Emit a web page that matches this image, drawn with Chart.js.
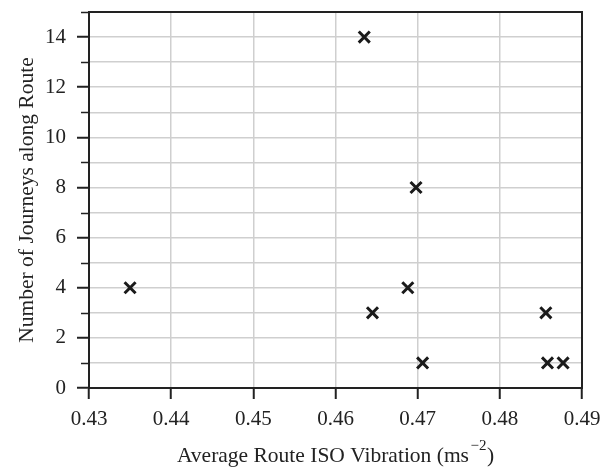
<!DOCTYPE html>
<html><head><meta charset="utf-8">
<script src="https://cdn.jsdelivr.net/npm/chart.js@4"></script>
<style>html,body{margin:0;padding:0;background:#fff}#wrap{width:608px;height:468px}</style>
</head><body><div id="wrap"><canvas id="c" width="608" height="468"></canvas></div>
<script>
const vibration = [0.435, 0.4635, 0.4698, 0.4688, 0.4645, 0.4706, 0.4856, 0.4858, 0.4877];
const journeys = [4, 14, 8, 4, 3, 1, 3, 1, 1];
const xTickLabels = ['0.43','0.44','0.45','0.46','0.47','0.48','0.49'];
const yTickLabels = ['0','2','4','6','8','10','12','14'];
const xTitle = 'Average Route ISO Vibration (ms';
const xTitleSup = '\u22122';
const yTitle = 'Number of Journeys along Route';

const FONT = '"Liberation Serif", "Times New Roman", serif';
const INK = '#222222';
const TITLE_SIZE = 21.5;

const framePlugin = {
  id: 'frame',
  afterDraw(chart) {
    const ctx = chart.ctx, a = chart.chartArea;
    const ys = chart.scales.y;
    ctx.save();
    // minor ticks on y (odd values)
    ctx.strokeStyle = INK; ctx.lineWidth = 1.5;
    for (let v = 1; v <= 15; v += 2) {
      const py = Math.round(ys.getPixelForValue(v)) + 0.5;
      ctx.beginPath(); ctx.moveTo(a.left - 8, py); ctx.lineTo(a.left, py); ctx.stroke();
    }
    // box
    ctx.lineWidth = 2; ctx.strokeStyle = INK;
    ctx.strokeRect(a.left, a.top, a.right - a.left, a.bottom - a.top);
    // x title with superscript
    ctx.fillStyle = '#222';
    ctx.textBaseline = 'alphabetic';
    const big = TITLE_SIZE + 'px ' + FONT, small = Math.round(TITLE_SIZE * 0.68) + 'px ' + FONT;
    ctx.font = big;
    const w1 = ctx.measureText(xTitle).width;
    ctx.font = small;
    const w2 = ctx.measureText(xTitleSup).width;
    ctx.font = big;
    const w3 = ctx.measureText(')').width;
    const total = w1 + w2 + w3 + 2;
    const cx = (a.left + a.right) / 2;
    let x0 = cx - total / 2;
    const base = 462;
    ctx.textAlign = 'left';
    ctx.fillText(xTitle, x0, base);
    ctx.font = small;
    ctx.fillText(xTitleSup, x0 + w1 + 1.5, base - 12);
    ctx.font = big;
    ctx.fillText(')', x0 + w1 + w2 + 2, base);
    // y title
    ctx.translate(33, (a.top + a.bottom) / 2);
    ctx.rotate(-Math.PI / 2);
    ctx.textAlign = 'center'; ctx.textBaseline = 'alphabetic';
    ctx.font = big;
    ctx.fillText(yTitle, 0, 0);
    ctx.restore();
  }
};

new Chart(document.getElementById('c'), {
  type: 'scatter',
  data: {
    datasets: [{
      data: vibration.map((v, i) => ({ x: v, y: journeys[i] })),
      pointStyle: 'crossRot',
      radius: 7.8,
      hoverRadius: 7.8,
      borderWidth: 3,
      borderColor: '#1a1a1a',
      backgroundColor: '#1a1a1a'
    }]
  },
  options: {
    responsive: false,
    animation: false,
    events: [],
    layout: { padding: { left: 0, right: 26, top: 12, bottom: 0 } },
    plugins: { legend: { display: false }, tooltip: { enabled: false } },
    scales: {
      x: {
        type: 'linear', min: 0.43, max: 0.49,
        afterFit(s) { s.height = 80; s.paddingLeft = 0; s.paddingRight = 0; },
        afterBuildTicks(s) { s.ticks = xTickLabels.map(t => ({ value: parseFloat(t) })); },
        ticks: {
          callback: (v) => { const l = xTickLabels.find(t => Math.abs(parseFloat(t) - v) < 1e-9); return l || ''; },
          font: { family: FONT, size: 21 }, color: '#222', padding: 8, maxRotation: 0, autoSkip: false
        },
        grid: { color: '#cfcfcf', lineWidth: 1.5, tickLength: 11, tickColor: INK, tickWidth: 2 },
        border: { color: INK, width: 2 }
      },
      y: {
        type: 'linear', min: 0, max: 15,
        afterFit(s) { s.width = 89; s.paddingTop = 0; s.paddingBottom = 0; },
        afterBuildTicks(s) { const t = []; for (let v = 0; v <= 15; v++) t.push({ value: v }); s.ticks = t; },
        ticks: {
          callback: (v) => yTickLabels.includes(String(v)) ? String(v) : '',
          font: { family: FONT, size: 21 }, color: '#222', padding: 11, autoSkip: false
        },
        grid: {
          color: '#cfcfcf', lineWidth: 1.5, tickLength: 12,
          tickColor: (c) => (c.tick && c.tick.value % 2 === 0) ? INK : 'rgba(0,0,0,0)', tickWidth: 2
        },
        border: { color: INK, width: 2 }
      }
    }
  },
  plugins: [framePlugin]
});
</script></body></html>
